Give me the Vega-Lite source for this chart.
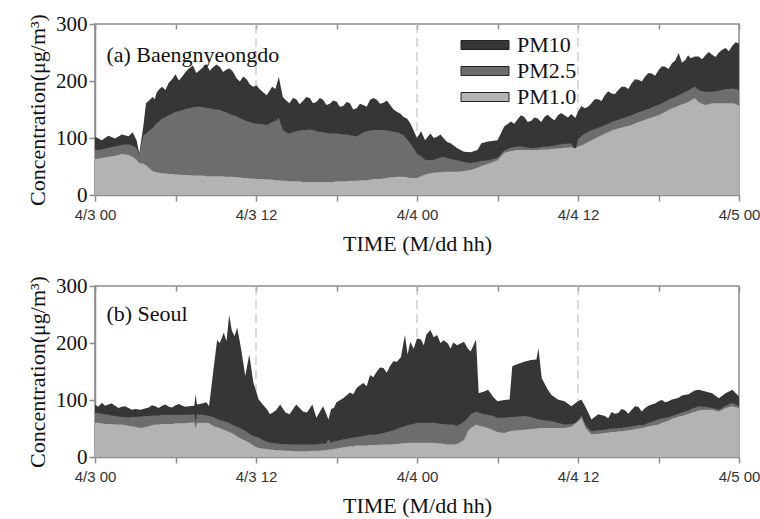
{
  "$schema": "https://vega.github.io/schema/vega-lite/v6.json",
  "background": "white",
  "padding": {"left": 25, "top": 12, "right": 10, "bottom": 4},
  "spacing": 19,
  "datasets": {
    "bae": [
      {"h":0,"pm10":102,"pm25":79,"pm1":63},{"h":0.5,"pm10":96,"pm25":80,"pm1":65},{"h":1,"pm10":104,"pm25":83,"pm1":67},{"h":1.5,"pm10":99,"pm25":85,"pm1":69},{"h":2,"pm10":106,"pm25":88,"pm1":72},{"h":2.5,"pm10":103,"pm25":89,"pm1":70},{"h":2.8,"pm10":110,"pm25":87,"pm1":67},{"h":3.1,"pm10":96,"pm25":82,"pm1":62},{"h":3.3,"pm10":73,"pm25":70,"pm1":56},{"h":3.6,"pm10":120,"pm25":105,"pm1":55},{"h":3.8,"pm10":161,"pm25":108,"pm1":52},{"h":4.3,"pm10":172,"pm25":118,"pm1":42},{"h":4.45,"pm10":168,"pm25":122,"pm1":41},{"h":4.6,"pm10":180,"pm25":126,"pm1":40},{"h":4.8,"pm10":186,"pm25":130,"pm1":39},{"h":5,"pm10":190,"pm25":134,"pm1":38},{"h":5.25,"pm10":184,"pm25":137,"pm1":38},{"h":5.5,"pm10":197,"pm25":140,"pm1":37},{"h":5.75,"pm10":203,"pm25":143,"pm1":37},{"h":6,"pm10":212,"pm25":146,"pm1":36},{"h":6.25,"pm10":201,"pm25":147,"pm1":36},{"h":6.5,"pm10":208,"pm25":149,"pm1":35},{"h":6.75,"pm10":216,"pm25":151,"pm1":35},{"h":7,"pm10":222,"pm25":152,"pm1":35},{"h":7.3,"pm10":227,"pm25":154,"pm1":34},{"h":7.55,"pm10":214,"pm25":155,"pm1":34},{"h":7.8,"pm10":219,"pm25":155,"pm1":34},{"h":8.05,"pm10":224,"pm25":154,"pm1":34},{"h":8.3,"pm10":230,"pm25":153,"pm1":33},{"h":8.55,"pm10":218,"pm25":152,"pm1":33},{"h":8.8,"pm10":224,"pm25":151,"pm1":33},{"h":9.05,"pm10":229,"pm25":150,"pm1":33},{"h":9.3,"pm10":225,"pm25":149,"pm1":33},{"h":9.55,"pm10":216,"pm25":147,"pm1":33},{"h":9.8,"pm10":220,"pm25":145,"pm1":32},{"h":10.05,"pm10":222,"pm25":142,"pm1":32},{"h":10.3,"pm10":216,"pm25":140,"pm1":32},{"h":10.55,"pm10":205,"pm25":138,"pm1":31},{"h":10.8,"pm10":199,"pm25":135,"pm1":31},{"h":11.05,"pm10":208,"pm25":132,"pm1":30},{"h":11.3,"pm10":203,"pm25":130,"pm1":30},{"h":11.55,"pm10":194,"pm25":128,"pm1":29},{"h":11.8,"pm10":190,"pm25":126,"pm1":29},{"h":12.05,"pm10":192,"pm25":125,"pm1":28},{"h":12.3,"pm10":185,"pm25":125,"pm1":28},{"h":12.55,"pm10":180,"pm25":124,"pm1":28},{"h":12.8,"pm10":175,"pm25":123,"pm1":27},{"h":13.2,"pm10":190,"pm25":128,"pm1":27},{"h":13.45,"pm10":186,"pm25":130,"pm1":26},{"h":13.7,"pm10":207,"pm25":135,"pm1":26},{"h":14,"pm10":172,"pm25":115,"pm1":25},{"h":14.25,"pm10":166,"pm25":110,"pm1":25},{"h":14.5,"pm10":161,"pm25":108,"pm1":24},{"h":14.75,"pm10":170,"pm25":110,"pm1":24},{"h":15,"pm10":168,"pm25":112,"pm1":24},{"h":15.25,"pm10":159,"pm25":113,"pm1":24},{"h":15.5,"pm10":165,"pm25":114,"pm1":23},{"h":15.75,"pm10":172,"pm25":114,"pm1":23},{"h":16,"pm10":170,"pm25":115,"pm1":23},{"h":16.25,"pm10":161,"pm25":114,"pm1":23},{"h":16.5,"pm10":163,"pm25":112,"pm1":23},{"h":16.75,"pm10":170,"pm25":111,"pm1":23},{"h":17,"pm10":167,"pm25":110,"pm1":23},{"h":17.25,"pm10":158,"pm25":109,"pm1":23},{"h":17.5,"pm10":160,"pm25":108,"pm1":23},{"h":17.75,"pm10":166,"pm25":108,"pm1":23},{"h":18,"pm10":164,"pm25":108,"pm1":24},{"h":18.25,"pm10":155,"pm25":107,"pm1":24},{"h":18.5,"pm10":156,"pm25":106,"pm1":24},{"h":18.75,"pm10":163,"pm25":106,"pm1":24},{"h":19,"pm10":161,"pm25":105,"pm1":25},{"h":19.25,"pm10":150,"pm25":104,"pm1":25},{"h":19.5,"pm10":152,"pm25":103,"pm1":25},{"h":19.75,"pm10":160,"pm25":106,"pm1":26},{"h":20,"pm10":158,"pm25":110,"pm1":26},{"h":20.25,"pm10":155,"pm25":112,"pm1":26},{"h":20.5,"pm10":167,"pm25":113,"pm1":27},{"h":20.75,"pm10":170,"pm25":114,"pm1":28},{"h":21,"pm10":167,"pm25":114,"pm1":28},{"h":21.25,"pm10":160,"pm25":114,"pm1":28},{"h":21.5,"pm10":162,"pm25":114,"pm1":29},{"h":21.75,"pm10":166,"pm25":113,"pm1":30},{"h":22,"pm10":158,"pm25":112,"pm1":31},{"h":22.25,"pm10":150,"pm25":111,"pm1":31},{"h":22.5,"pm10":146,"pm25":110,"pm1":32},{"h":22.75,"pm10":143,"pm25":108,"pm1":32},{"h":23,"pm10":137,"pm25":105,"pm1":32},{"h":23.25,"pm10":134,"pm25":98,"pm1":31},{"h":23.5,"pm10":126,"pm25":91,"pm1":30},{"h":24,"pm10":100,"pm25":73,"pm1":30},{"h":24.3,"pm10":112,"pm25":68,"pm1":33},{"h":24.6,"pm10":96,"pm25":62,"pm1":36},{"h":25,"pm10":108,"pm25":61,"pm1":38},{"h":25.25,"pm10":100,"pm25":62,"pm1":39},{"h":25.5,"pm10":102,"pm25":64,"pm1":40},{"h":25.75,"pm10":106,"pm25":66,"pm1":40},{"h":26,"pm10":99,"pm25":67,"pm1":41},{"h":26.25,"pm10":93,"pm25":65,"pm1":41},{"h":26.5,"pm10":91,"pm25":63,"pm1":41},{"h":27,"pm10":82,"pm25":61,"pm1":41},{"h":27.5,"pm10":76,"pm25":58,"pm1":42},{"h":28,"pm10":75,"pm25":56,"pm1":44},{"h":28.5,"pm10":79,"pm25":58,"pm1":48},{"h":28.8,"pm10":91,"pm25":60,"pm1":51},{"h":29.3,"pm10":94,"pm25":61,"pm1":55},{"h":30,"pm10":96,"pm25":65,"pm1":61},{"h":30.5,"pm10":120,"pm25":78,"pm1":74},{"h":31,"pm10":129,"pm25":83,"pm1":77},{"h":31.25,"pm10":125,"pm25":84,"pm1":78},{"h":31.5,"pm10":133,"pm25":85,"pm1":79},{"h":31.75,"pm10":140,"pm25":85,"pm1":79},{"h":32,"pm10":137,"pm25":84,"pm1":79},{"h":32.25,"pm10":128,"pm25":83,"pm1":79},{"h":32.5,"pm10":130,"pm25":82,"pm1":79},{"h":32.75,"pm10":136,"pm25":83,"pm1":79},{"h":33,"pm10":134,"pm25":83,"pm1":79},{"h":33.25,"pm10":128,"pm25":84,"pm1":80},{"h":33.5,"pm10":137,"pm25":85,"pm1":80},{"h":33.75,"pm10":141,"pm25":85,"pm1":80},{"h":34,"pm10":135,"pm25":86,"pm1":81},{"h":34.25,"pm10":131,"pm25":87,"pm1":81},{"h":34.5,"pm10":140,"pm25":88,"pm1":82},{"h":34.75,"pm10":144,"pm25":89,"pm1":82},{"h":35,"pm10":140,"pm25":90,"pm1":83},{"h":35.25,"pm10":136,"pm25":90,"pm1":83},{"h":35.5,"pm10":142,"pm25":91,"pm1":84},{"h":35.8,"pm10":135,"pm25":76,"pm1":82},{"h":36,"pm10":146,"pm25":98,"pm1":85},{"h":36.25,"pm10":156,"pm25":103,"pm1":87},{"h":36.5,"pm10":152,"pm25":108,"pm1":90},{"h":36.75,"pm10":155,"pm25":111,"pm1":93},{"h":37,"pm10":161,"pm25":114,"pm1":96},{"h":37.25,"pm10":168,"pm25":116,"pm1":99},{"h":37.5,"pm10":168,"pm25":118,"pm1":102},{"h":37.75,"pm10":165,"pm25":120,"pm1":105},{"h":38,"pm10":175,"pm25":123,"pm1":108},{"h":38.25,"pm10":182,"pm25":125,"pm1":110},{"h":38.5,"pm10":178,"pm25":128,"pm1":113},{"h":38.75,"pm10":177,"pm25":130,"pm1":115},{"h":39,"pm10":184,"pm25":132,"pm1":117},{"h":39.25,"pm10":190,"pm25":134,"pm1":118},{"h":39.5,"pm10":190,"pm25":136,"pm1":120},{"h":39.75,"pm10":186,"pm25":138,"pm1":121},{"h":40,"pm10":196,"pm25":140,"pm1":123},{"h":40.25,"pm10":203,"pm25":143,"pm1":126},{"h":40.5,"pm10":202,"pm25":145,"pm1":128},{"h":40.75,"pm10":199,"pm25":147,"pm1":130},{"h":41,"pm10":208,"pm25":149,"pm1":132},{"h":41.25,"pm10":214,"pm25":151,"pm1":134},{"h":41.5,"pm10":213,"pm25":154,"pm1":136},{"h":41.75,"pm10":209,"pm25":156,"pm1":138},{"h":42,"pm10":219,"pm25":158,"pm1":140},{"h":42.25,"pm10":226,"pm25":161,"pm1":143},{"h":42.5,"pm10":225,"pm25":164,"pm1":146},{"h":42.75,"pm10":221,"pm25":167,"pm1":149},{"h":43,"pm10":231,"pm25":170,"pm1":152},{"h":43.25,"pm10":236,"pm25":172,"pm1":154},{"h":43.5,"pm10":249,"pm25":175,"pm1":157},{"h":43.75,"pm10":232,"pm25":178,"pm1":159},{"h":44,"pm10":237,"pm25":181,"pm1":161},{"h":44.2,"pm10":245,"pm25":183,"pm1":163},{"h":44.4,"pm10":240,"pm25":186,"pm1":166},{"h":44.7,"pm10":243,"pm25":190,"pm1":170},{"h":45,"pm10":243,"pm25":184,"pm1":163},{"h":45.25,"pm10":238,"pm25":182,"pm1":160},{"h":45.5,"pm10":245,"pm25":181,"pm1":158},{"h":45.75,"pm10":251,"pm25":181,"pm1":159},{"h":46,"pm10":246,"pm25":181,"pm1":161},{"h":46.25,"pm10":242,"pm25":182,"pm1":161},{"h":46.5,"pm10":250,"pm25":183,"pm1":161},{"h":46.75,"pm10":255,"pm25":184,"pm1":161},{"h":47,"pm10":258,"pm25":186,"pm1":161},{"h":47.25,"pm10":252,"pm25":186,"pm1":161},{"h":47.5,"pm10":262,"pm25":187,"pm1":161},{"h":47.75,"pm10":268,"pm25":186,"pm1":160},{"h":48,"pm10":266,"pm25":184,"pm1":156}
    ],
    "seoul": [
      {"h":0,"pm10":92,"pm25":77,"pm1":60},{"h":0.25,"pm10":88,"pm25":77,"pm1":60},{"h":0.5,"pm10":95,"pm25":76,"pm1":59},{"h":0.75,"pm10":90,"pm25":75,"pm1":58},{"h":1,"pm10":92,"pm25":74,"pm1":58},{"h":1.25,"pm10":94,"pm25":73,"pm1":58},{"h":1.5,"pm10":90,"pm25":72,"pm1":57},{"h":1.75,"pm10":86,"pm25":71,"pm1":57},{"h":2,"pm10":88,"pm25":70,"pm1":57},{"h":2.25,"pm10":89,"pm25":70,"pm1":56},{"h":2.5,"pm10":86,"pm25":69,"pm1":55},{"h":2.75,"pm10":83,"pm25":70,"pm1":54},{"h":3,"pm10":84,"pm25":70,"pm1":53},{"h":3.4,"pm10":83,"pm25":71,"pm1":51},{"h":4,"pm10":87,"pm25":72,"pm1":54},{"h":4.25,"pm10":91,"pm25":73,"pm1":56},{"h":4.5,"pm10":89,"pm25":73,"pm1":57},{"h":4.75,"pm10":86,"pm25":73,"pm1":57},{"h":5,"pm10":90,"pm25":74,"pm1":58},{"h":5.25,"pm10":92,"pm25":74,"pm1":58},{"h":5.5,"pm10":88,"pm25":74,"pm1":58},{"h":5.75,"pm10":87,"pm25":74,"pm1":58},{"h":6,"pm10":91,"pm25":74,"pm1":59},{"h":6.25,"pm10":93,"pm25":74,"pm1":59},{"h":6.5,"pm10":90,"pm25":74,"pm1":59},{"h":6.75,"pm10":88,"pm25":74,"pm1":59},{"h":7,"pm10":89,"pm25":74,"pm1":60},{"h":7.4,"pm10":90,"pm25":75,"pm1":61},{"h":7.5,"pm10":110,"pm25":62,"pm1":50},{"h":7.6,"pm10":92,"pm25":75,"pm1":60},{"h":8,"pm10":94,"pm25":74,"pm1":60},{"h":8.3,"pm10":96,"pm25":73,"pm1":60},{"h":8.5,"pm10":89,"pm25":72,"pm1":59},{"h":8.8,"pm10":148,"pm25":70,"pm1":55},{"h":9.1,"pm10":205,"pm25":67,"pm1":52},{"h":9.3,"pm10":200,"pm25":65,"pm1":51},{"h":9.6,"pm10":218,"pm25":63,"pm1":48},{"h":9.8,"pm10":203,"pm25":61,"pm1":46},{"h":10,"pm10":249,"pm25":60,"pm1":44},{"h":10.2,"pm10":222,"pm25":57,"pm1":42},{"h":10.4,"pm10":212,"pm25":55,"pm1":39},{"h":10.6,"pm10":227,"pm25":53,"pm1":36},{"h":10.9,"pm10":188,"pm25":50,"pm1":32},{"h":11.2,"pm10":142,"pm25":46,"pm1":29},{"h":11.5,"pm10":180,"pm25":41,"pm1":25},{"h":11.8,"pm10":131,"pm25":37,"pm1":20},{"h":12.2,"pm10":101,"pm25":34,"pm1":16},{"h":12.5,"pm10":92,"pm25":30,"pm1":15},{"h":12.8,"pm10":84,"pm25":27,"pm1":14},{"h":13.05,"pm10":75,"pm25":25,"pm1":13},{"h":13.5,"pm10":82,"pm25":24,"pm1":12},{"h":13.8,"pm10":92,"pm25":23,"pm1":12},{"h":14.2,"pm10":78,"pm25":23,"pm1":11},{"h":14.5,"pm10":75,"pm25":22,"pm1":11},{"h":15,"pm10":92,"pm25":22,"pm1":10},{"h":15.5,"pm10":80,"pm25":22,"pm1":10},{"h":15.8,"pm10":78,"pm25":22,"pm1":10},{"h":16.2,"pm10":92,"pm25":22,"pm1":11},{"h":16.5,"pm10":69,"pm25":22,"pm1":11},{"h":17,"pm10":89,"pm25":24,"pm1":12},{"h":17.2,"pm10":78,"pm25":23,"pm1":12},{"h":17.4,"pm10":66,"pm25":31,"pm1":13},{"h":17.6,"pm10":84,"pm25":25,"pm1":13},{"h":17.8,"pm10":86,"pm25":27,"pm1":14},{"h":18,"pm10":96,"pm25":28,"pm1":15},{"h":18.5,"pm10":103,"pm25":31,"pm1":17},{"h":19,"pm10":113,"pm25":33,"pm1":19},{"h":19.25,"pm10":110,"pm25":34,"pm1":19},{"h":19.5,"pm10":121,"pm25":35,"pm1":20},{"h":19.75,"pm10":126,"pm25":36,"pm1":20},{"h":20,"pm10":130,"pm25":37,"pm1":20},{"h":20.25,"pm10":124,"pm25":38,"pm1":20},{"h":20.5,"pm10":144,"pm25":39,"pm1":21},{"h":20.75,"pm10":140,"pm25":39,"pm1":21},{"h":21,"pm10":150,"pm25":40,"pm1":21},{"h":21.25,"pm10":157,"pm25":41,"pm1":22},{"h":21.5,"pm10":156,"pm25":42,"pm1":22},{"h":21.75,"pm10":148,"pm25":44,"pm1":22},{"h":22,"pm10":160,"pm25":45,"pm1":22},{"h":22.25,"pm10":168,"pm25":47,"pm1":23},{"h":22.5,"pm10":167,"pm25":49,"pm1":23},{"h":22.8,"pm10":175,"pm25":52,"pm1":24},{"h":23.1,"pm10":214,"pm25":54,"pm1":24},{"h":23.3,"pm10":180,"pm25":56,"pm1":25},{"h":23.5,"pm10":202,"pm25":57,"pm1":25},{"h":23.75,"pm10":190,"pm25":58,"pm1":25},{"h":24,"pm10":208,"pm25":60,"pm1":25},{"h":24.3,"pm10":206,"pm25":60,"pm1":25},{"h":24.5,"pm10":196,"pm25":60,"pm1":25},{"h":24.7,"pm10":215,"pm25":60,"pm1":25},{"h":25,"pm10":223,"pm25":60,"pm1":25},{"h":25.25,"pm10":210,"pm25":60,"pm1":25},{"h":25.5,"pm10":214,"pm25":59,"pm1":24},{"h":25.75,"pm10":200,"pm25":58,"pm1":24},{"h":26,"pm10":205,"pm25":58,"pm1":23},{"h":26.3,"pm10":199,"pm25":57,"pm1":22},{"h":26.5,"pm10":190,"pm25":57,"pm1":22},{"h":26.7,"pm10":201,"pm25":57,"pm1":22},{"h":27,"pm10":196,"pm25":55,"pm1":23},{"h":27.5,"pm10":202,"pm25":62,"pm1":30},{"h":27.8,"pm10":190,"pm25":69,"pm1":45},{"h":28,"pm10":185,"pm25":75,"pm1":51},{"h":28.4,"pm10":206,"pm25":80,"pm1":57},{"h":28.6,"pm10":112,"pm25":78,"pm1":55},{"h":29,"pm10":115,"pm25":75,"pm1":53},{"h":29.3,"pm10":118,"pm25":74,"pm1":51},{"h":29.7,"pm10":105,"pm25":72,"pm1":47},{"h":30,"pm10":98,"pm25":69,"pm1":44},{"h":30.5,"pm10":100,"pm25":69,"pm1":42},{"h":30.9,"pm10":101,"pm25":70,"pm1":45},{"h":31.1,"pm10":159,"pm25":70,"pm1":46},{"h":31.5,"pm10":163,"pm25":71,"pm1":47},{"h":32,"pm10":167,"pm25":72,"pm1":48},{"h":32.5,"pm10":170,"pm25":70,"pm1":49},{"h":32.9,"pm10":171,"pm25":67,"pm1":50},{"h":33.05,"pm10":191,"pm25":66,"pm1":51},{"h":33.3,"pm10":138,"pm25":65,"pm1":51},{"h":33.7,"pm10":120,"pm25":64,"pm1":51},{"h":34,"pm10":109,"pm25":63,"pm1":51},{"h":34.5,"pm10":101,"pm25":60,"pm1":51},{"h":35,"pm10":98,"pm25":57,"pm1":51},{"h":35.5,"pm10":89,"pm25":58,"pm1":53},{"h":36,"pm10":98,"pm25":60,"pm1":63},{"h":36.25,"pm10":101,"pm25":74,"pm1":69},{"h":36.6,"pm10":86,"pm25":55,"pm1":50},{"h":37,"pm10":66,"pm25":45,"pm1":40},{"h":37.5,"pm10":75,"pm25":47,"pm1":41},{"h":38,"pm10":72,"pm25":48,"pm1":42},{"h":38.25,"pm10":68,"pm25":49,"pm1":43},{"h":38.5,"pm10":79,"pm25":50,"pm1":44},{"h":38.75,"pm10":76,"pm25":50,"pm1":44},{"h":39,"pm10":77,"pm25":51,"pm1":45},{"h":39.25,"pm10":84,"pm25":51,"pm1":45},{"h":39.5,"pm10":82,"pm25":52,"pm1":46},{"h":39.75,"pm10":76,"pm25":53,"pm1":47},{"h":40,"pm10":83,"pm25":54,"pm1":48},{"h":40.25,"pm10":89,"pm25":55,"pm1":49},{"h":40.5,"pm10":88,"pm25":56,"pm1":50},{"h":40.75,"pm10":80,"pm25":56,"pm1":51},{"h":41,"pm10":86,"pm25":57,"pm1":52},{"h":41.25,"pm10":90,"pm25":60,"pm1":54},{"h":41.5,"pm10":92,"pm25":62,"pm1":55},{"h":41.75,"pm10":94,"pm25":64,"pm1":56},{"h":42,"pm10":98,"pm25":66,"pm1":57},{"h":42.25,"pm10":100,"pm25":68,"pm1":60},{"h":42.5,"pm10":96,"pm25":69,"pm1":62},{"h":42.75,"pm10":98,"pm25":70,"pm1":64},{"h":43,"pm10":101,"pm25":72,"pm1":67},{"h":43.25,"pm10":102,"pm25":74,"pm1":69},{"h":43.5,"pm10":104,"pm25":76,"pm1":71},{"h":43.75,"pm10":108,"pm25":78,"pm1":72},{"h":44,"pm10":109,"pm25":80,"pm1":74},{"h":44.25,"pm10":110,"pm25":82,"pm1":76},{"h":44.5,"pm10":114,"pm25":85,"pm1":78},{"h":44.75,"pm10":117,"pm25":87,"pm1":80},{"h":45,"pm10":118,"pm25":89,"pm1":82},{"h":45.5,"pm10":115,"pm25":88,"pm1":83},{"h":46,"pm10":112,"pm25":86,"pm1":83},{"h":46.5,"pm10":103,"pm25":83,"pm1":80},{"h":47,"pm10":112,"pm25":90,"pm1":86},{"h":47.5,"pm10":118,"pm25":95,"pm1":89},{"h":48,"pm10":106,"pm25":89,"pm1":86}
    ],
    "marks": [{"h":12},{"h":24},{"h":36}]
  },
  "resolve": {"scale": {"color": "independent"}, "legend": {"color": "independent"}},
  "vconcat": [
    {
      "width": 644,
      "height": 171,
      "resolve": {"axis": {"x": "independent"}},
      "layer": [
        {
          "data": {"name": "marks"},
          "mark": {"type": "rule", "color": "#c4c4c4", "strokeWidth": 1.2, "strokeDash": [9, 5]},
          "encoding": {
            "x": {"field": "h", "type": "quantitative", "scale": {"domain": [0, 48], "nice": false, "zero": false},
                  "axis": {"orient": "top", "values": [0,6,12,18,24,30,36,42,48], "labels": false, "title": null, "domain": false, "tickSize": -5}}
          }
        },
        {
          "data": {"name": "bae"},
          "mark": {"type": "area", "opacity": 1},
          "encoding": {
            "x": {"field": "h", "type": "quantitative",
                  "axis": {"values": [0,6,12,18,24,30,36,42,48], "title": "TIME (M/dd hh)",
                           "labelExpr": "datum.value == 0 ? '4/3 00' : datum.value == 12 ? '4/3 12' : datum.value == 24 ? '4/4 00' : datum.value == 36 ? '4/4 12' : datum.value == 48 ? '4/5 00' : ''"}},
            "y": {"field": "pm10", "type": "quantitative", "scale": {"domain": [0, 300], "nice": false},
                  "axis": {"values": [0,50,100,150,200,250,300], "title": "Concentration(μg/m³)"}},
            "color": {"datum": "PM10", "type": "nominal",
                      "scale": {"domain": ["PM10", "PM2.5", "PM1.0"], "range": ["#363636", "#6d6d6d", "#b3b3b3"]},
                      "legend": {"orient": "none", "legendX": 379, "legendY": 10, "title": null,
                                 "symbolType": "M-4.8,-0.9L4.8,-0.9L4.8,0.9L-4.8,0.9Z", "symbolSize": 100,
                                 "symbolStrokeColor": "#222", "symbolStrokeWidth": 1, "symbolOpacity": 1,
                                 "labelFont": "Liberation Serif", "labelFontSize": 22, "labelColor": "#111",
                                 "labelOffset": 21, "rowPadding": 4}}
          }
        },
        {
          "data": {"name": "bae"},
          "mark": {"type": "area", "opacity": 1},
          "encoding": {
            "x": {"field": "h", "type": "quantitative", "axis": null},
            "y": {"field": "pm25", "type": "quantitative"},
            "color": {"datum": "PM2.5", "type": "nominal"}
          }
        },
        {
          "data": {"name": "bae"},
          "mark": {"type": "area", "opacity": 1},
          "encoding": {
            "x": {"field": "h", "type": "quantitative", "axis": null},
            "y": {"field": "pm1", "type": "quantitative"},
            "color": {"datum": "PM1.0", "type": "nominal"}
          }
        },
        {
          "data": {"values": [{"label": "(a) Baengnyeongdo"}]},
          "mark": {"type": "text", "align": "left", "baseline": "alphabetic", "font": "Liberation Serif", "fontSize": 22, "color": "#111"},
          "encoding": {
            "x": {"datum": 0.85, "type": "quantitative", "axis": null},
            "y": {"datum": 233, "type": "quantitative"},
            "text": {"field": "label"}
          }
        }
      ]
    },
    {
      "width": 644,
      "height": 171,
      "resolve": {"axis": {"x": "independent"}},
      "layer": [
        {
          "data": {"name": "marks"},
          "mark": {"type": "rule", "color": "#c4c4c4", "strokeWidth": 1.2, "strokeDash": [9, 5]},
          "encoding": {
            "x": {"field": "h", "type": "quantitative", "scale": {"domain": [0, 48], "nice": false, "zero": false},
                  "axis": {"orient": "top", "values": [0,6,12,18,24,30,36,42,48], "labels": false, "title": null, "domain": false, "tickSize": -5}}
          }
        },
        {
          "data": {"name": "seoul"},
          "mark": {"type": "area", "color": "#363636", "opacity": 1},
          "encoding": {
            "x": {"field": "h", "type": "quantitative",
                  "axis": {"values": [0,6,12,18,24,30,36,42,48], "title": "TIME (M/dd hh)",
                           "labelExpr": "datum.value == 0 ? '4/3 00' : datum.value == 12 ? '4/3 12' : datum.value == 24 ? '4/4 00' : datum.value == 36 ? '4/4 12' : datum.value == 48 ? '4/5 00' : ''"}},
            "y": {"field": "pm10", "type": "quantitative", "scale": {"domain": [0, 300], "nice": false},
                  "axis": {"values": [0,50,100,150,200,250,300], "title": "Concentration(μg/m³)"}}
          }
        },
        {
          "data": {"name": "seoul"},
          "mark": {"type": "area", "color": "#6d6d6d", "opacity": 1},
          "encoding": {
            "x": {"field": "h", "type": "quantitative", "axis": null},
            "y": {"field": "pm25", "type": "quantitative"}
          }
        },
        {
          "data": {"name": "seoul"},
          "mark": {"type": "area", "color": "#b3b3b3", "opacity": 1},
          "encoding": {
            "x": {"field": "h", "type": "quantitative", "axis": null},
            "y": {"field": "pm1", "type": "quantitative"}
          }
        },
        {
          "data": {"values": [{"label": "(b) Seoul"}]},
          "mark": {"type": "text", "align": "left", "baseline": "alphabetic", "font": "Liberation Serif", "fontSize": 22, "color": "#111"},
          "encoding": {
            "x": {"datum": 0.85, "type": "quantitative", "axis": null},
            "y": {"datum": 238, "type": "quantitative"},
            "text": {"field": "label"}
          }
        }
      ]
    }
  ],
  "config": {
    "view": {"stroke": "#8c8c8c", "strokeWidth": 1.5},
    "axis": {"grid": false, "domainColor": "#8c8c8c", "domainWidth": 1.5, "tickColor": "#8c8c8c", "tickWidth": 1.5, "tickSize": 6,
             "titleFont": "Liberation Serif", "titleFontSize": 22, "titleFontWeight": "normal", "titleColor": "#111"},
    "axisX": {"labelFont": "Liberation Sans", "labelFontSize": 15, "labelColor": "#333", "labelPadding": 6, "titlePadding": 11, "labelFlush": false},
    "axisY": {"labelFont": "Liberation Serif", "labelFontSize": 21, "labelColor": "#111", "labelPadding": 2, "titlePadding": 6}
  }
}
